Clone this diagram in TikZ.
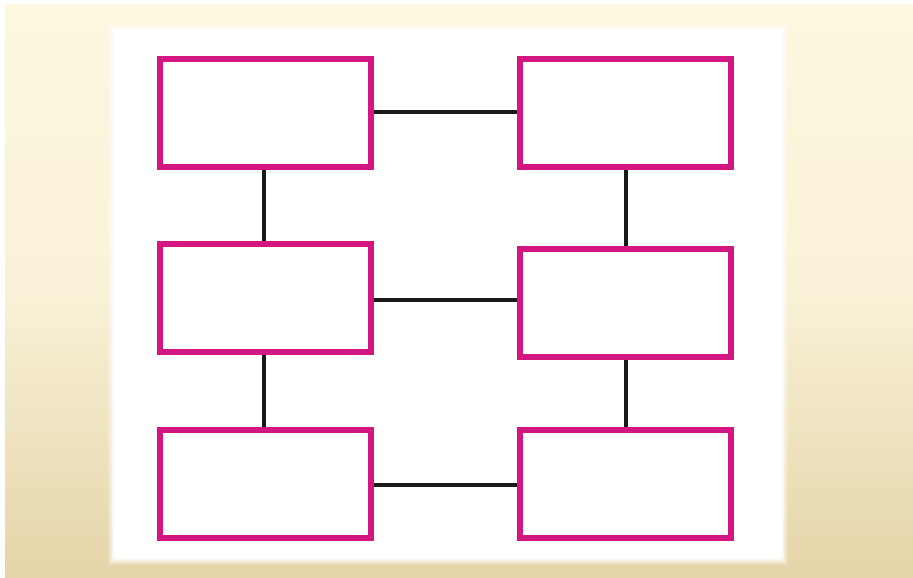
\documentclass[tikz,border=0pt]{standalone}
\usetikzlibrary{positioning}
\definecolor{mag}{RGB}{212,22,130}
\definecolor{bgtop}{RGB}{253,247,224}
\definecolor{bgbot}{RGB}{228,212,168}
\definecolor{conn}{RGB}{25,25,25}
\begin{document}
\begin{tikzpicture}[x=1pt,y=-1pt,
  boxn/.style={draw=mag,line width=6pt,fill=white,minimum width=211pt,minimum height=108pt,inner sep=0pt,anchor=north west},
  link/.style={draw=conn,line width=4pt}]
\useasboundingbox (0,0) rectangle (913,578);
\fill[white] (0,0) rectangle (913,578);
\shade[top color=bgtop,bottom color=bgbot,middle color=bgtop!85!bgbot] (5,5) rectangle (913,578);
% soft white panel
\foreach \o/\op in {6/0.2,4/0.35,2/0.6}{
  \fill[white,opacity=\op] (114-\o,30-\o) rectangle (782+\o,559+\o);
}
\fill[white] (114,30) rectangle (782,559);
\node[boxn] (a1) at (157,56) {};
\node[boxn] (b1) at (517,56) {};
\node[boxn] (a2) at (157,241) {};
\node[boxn] (b2) at (517,246) {};
\node[boxn] (a3) at (157,427) {};
\node[boxn] (b3) at (517,427) {};
\draw[link] (a1.east |- 0,112) -- (b1.west |- 0,112);
\draw[link] (a2.east |- 0,300) -- (b2.west |- 0,300);
\draw[link] (a3.east |- 0,485) -- (b3.west |- 0,485);
\draw[link] (a1.south -| 264,0) -- (a2.north -| 264,0);
\draw[link] (a2.south -| 264,0) -- (a3.north -| 264,0);
\draw[link] (b1.south -| 626,0) -- (b2.north -| 626,0);
\draw[link] (b2.south -| 626,0) -- (b3.north -| 626,0);
\end{tikzpicture}
\end{document}
